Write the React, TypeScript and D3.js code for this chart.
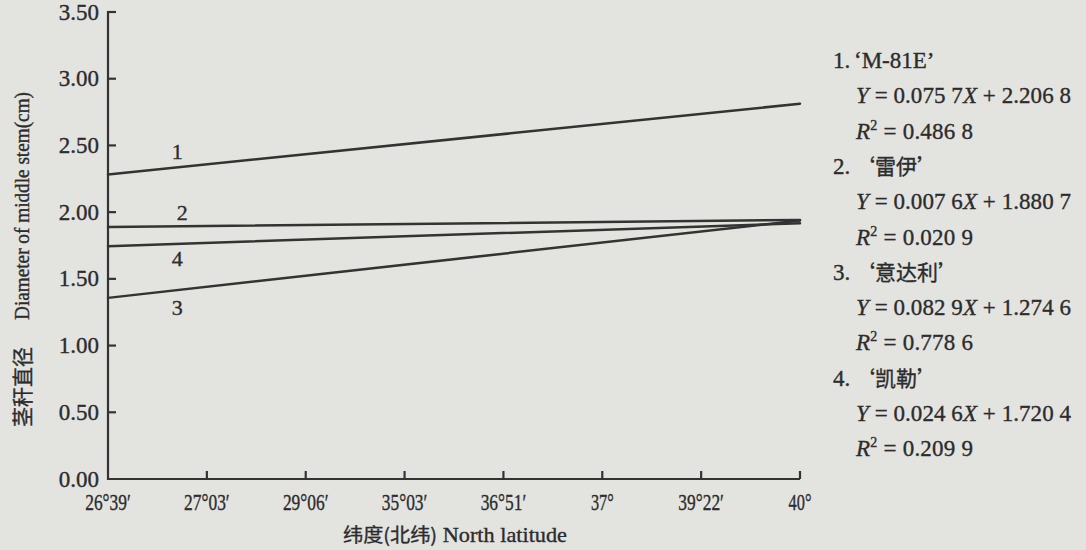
import React from "react";
import * as d3 from "d3";

// Latitude of each test site (x categories, in order X = 1..8)
const LATITUDES = ["26°39′", "27°03′", "29°06′", "35°03′", "36°51′", "37°", "39°22′", "40°"];

// Cultivars and their linear fits Y = a·X + b of middle-stem diameter on site order
const CULTIVARS = ["‘M-81E’", "‘雷伊’", "‘意达利’", "‘凯勒’"];
const SLOPES = [0.0757, 0.0076, 0.0829, 0.0246];
const INTERCEPTS = [2.2068, 1.8807, 1.2746, 1.7204];
const R_SQUARED = [0.4868, 0.0209, 0.7786, 0.2099];

// Y axis ticks (cm)
const Y_TICKS = [0, 0.5, 1.0, 1.5, 2.0, 2.5, 3.0, 3.5];

const W = 1086;
const H = 550;
const BG = "#e3e3e0";
const INK = "#2c2c2c";
const SERIF = "'Liberation Serif', 'Times New Roman', 'DejaVu Serif', serif";
const CJK = "'Noto Sans CJK SC', 'Noto Sans CJK TC', sans-serif";

// where the curve number sits along each line (X position, vertical offset in px)
const NUMBER_TAGS = [
  { at: 1.7, dy: -16 },
  { at: 1.75, dy: -14 },
  { at: 1.7, dy: 17 },
  { at: 1.7, dy: 14 },
];

// Chinese-style number grouping: 0.0757 -> "0.075 7"
function groupDecimals(v: number): string {
  const s = v.toFixed(4);
  const [ip, fp] = s.split(".");
  return `${ip}.${fp.slice(0, 3)} ${fp.slice(3)}`;
}

export default function App() {
  const x = d3.scaleLinear().domain([1, LATITUDES.length]).range([108, 800]);
  const y = d3.scaleLinear().domain([0, 3.5]).range([479, 12]);

  const line = d3
    .line<[number, number]>()
    .x((d) => x(d[0]))
    .y((d) => y(d[1]));

  const fitAt = (i: number, X: number) => SLOPES[i] * X + INTERCEPTS[i];

  const x0 = x(1);
  const x1 = x(LATITUDES.length);
  const y0 = y(0);
  const yTop = y(3.5);

  // legend rows: 3 per cultivar, evenly spaced
  const rowBase = (k: number) => 68 + k * 35.3;

  const textInk = { fill: INK, stroke: INK, strokeWidth: 0.35 };

  return (
    <svg
      width={W}
      height={H}
      viewBox={`0 0 ${W} ${H}`}
      style={{ position: "absolute", left: 0, top: 0, display: "block" }}
    >
      <rect x={0} y={0} width={W} height={H} fill={BG} />

      {/* axes */}
      <g stroke="#333" strokeWidth={2.2} fill="none">
        <line x1={x0} y1={yTop - 1} x2={x0} y2={y0 + 1} />
        <line x1={x0 - 1} y1={y0} x2={x1} y2={y0} />
        {Y_TICKS.filter((t) => t > 0).map((t) => (
          <line key={`yt${t}`} x1={x0} x2={x0 + 8} y1={y(t)} y2={y(t)} />
        ))}
        {LATITUDES.map((_, i) =>
          i === 0 ? null : (
            <line key={`xt${i}`} x1={x(i + 1)} x2={x(i + 1)} y1={y0} y2={y0 - 8} />
          )
        )}
      </g>

      {/* y tick labels */}
      <g fontFamily={SERIF} fontSize={23} textAnchor="end" {...textInk}>
        {Y_TICKS.map((t) => (
          <text key={`yl${t}`} x={99} y={y(t)} dy="0.33em">
            {t.toFixed(2)}
          </text>
        ))}
      </g>

      {/* x tick labels */}
      <g fontFamily={SERIF} fontSize={23} textAnchor="middle" {...textInk}>
        {LATITUDES.map((lab, i) => (
          <text
            key={`xl${i}`}
            x={x(i + 1)}
            y={510}
            textLength={lab.length * 7.6}
            lengthAdjust="spacingAndGlyphs"
          >
            {lab}
          </text>
        ))}
      </g>

      {/* axis titles */}
      <text
        x={343}
        y={542}
        fontFamily={SERIF}
        fontSize={21}
        textLength={224}
        lengthAdjust="spacingAndGlyphs"
        {...textInk}
      >
        <tspan fontFamily={CJK} fontSize={19}>纬度(北纬)</tspan> North latitude
      </text>
      <text
        transform="translate(22,427) rotate(-90)"
        dy="0.36em"
        fontFamily={CJK}
        fontSize={21}
        textLength={80}
        lengthAdjust="spacingAndGlyphs"
        {...textInk}
      >
        茎秆直径
      </text>
      <text
        transform="translate(22,320) rotate(-90)"
        dy="0.36em"
        fontFamily={SERIF}
        fontSize={20}
        textLength={228}
        lengthAdjust="spacingAndGlyphs"
        {...textInk}
      >
        Diameter of middle stem(cm)
      </text>

      {/* fitted lines */}
      <g stroke="#333" strokeWidth={2.5} fill="none" strokeLinecap="round">
        {CULTIVARS.map((_, i) => (
          <path
            key={`ln${i}`}
            d={line([
              [1, fitAt(i, 1)],
              [LATITUDES.length, fitAt(i, LATITUDES.length)],
            ]) as string}
          />
        ))}
      </g>

      {/* curve numbers */}
      <g fontFamily={SERIF} fontSize={22} textAnchor="middle" {...textInk}>
        {CULTIVARS.map((_, i) => (
          <text
            key={`tag${i}`}
            x={x(NUMBER_TAGS[i].at)}
            y={y(fitAt(i, NUMBER_TAGS[i].at)) + NUMBER_TAGS[i].dy}
            dy="0.35em"
          >
            {i + 1}
          </text>
        ))}
      </g>

      {/* equations */}
      <g fontFamily={SERIF} fontSize={23} {...textInk}>
        {CULTIVARS.map((name, i) => (
          <g key={`eq${i}`}>
            <text x={833} y={rowBase(i * 3)}>
              {`${i + 1}.`}
              <tspan
                x={854}
                fontFamily={/[\u4e00-\u9fff]/.test(name) ? CJK : SERIF}
                fontSize={/[\u4e00-\u9fff]/.test(name) ? 21 : 23}
              >
                {name}
              </tspan>
            </text>
            <text
              x={856}
              y={rowBase(i * 3 + 1)}
              textLength={215}
              lengthAdjust="spacing"
            >
              <tspan fontStyle="italic">Y</tspan>
              {` = ${groupDecimals(SLOPES[i])}`}
              <tspan fontStyle="italic">X</tspan>
              {` + ${groupDecimals(INTERCEPTS[i])}`}
            </text>
            <text
              x={856}
              y={rowBase(i * 3 + 2)}
              textLength={117}
              lengthAdjust="spacing"
            >
              <tspan fontStyle="italic">R</tspan>
              <tspan fontSize={14} dy={-9}>2</tspan>
              <tspan dy={9}>{` = ${groupDecimals(R_SQUARED[i])}`}</tspan>
            </text>
          </g>
        ))}
      </g>
    </svg>
  );
}
